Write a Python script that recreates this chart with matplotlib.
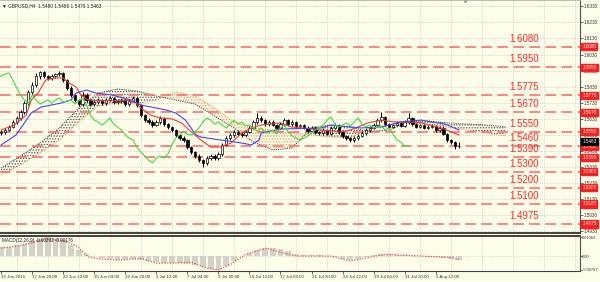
import matplotlib
matplotlib.use("Agg")
import matplotlib.pyplot as plt
import matplotlib.transforms as mtransforms
import numpy as np

plt.rcParams['font.family'] = ['Liberation Sans', 'DejaVu Sans']
plt.rcParams['hatch.linewidth'] = 0.6

# ---------------- data ----------------
# H4 candles, one drawn candle per 2 H4 bars (bar index = 2*k)
opens = [1.5540, 1.5548, 1.5560, 1.5579, 1.5610, 1.5635, 1.5672, 1.5728, 1.5797, 1.5840,
         1.5896, 1.5921, 1.5896, 1.5884, 1.5896, 1.5909, 1.5915, 1.5871, 1.5822, 1.5778,
         1.5747, 1.5722, 1.5778, 1.5747, 1.5722, 1.5734, 1.5747, 1.5728, 1.5747, 1.5759,
         1.5734, 1.5741, 1.5747, 1.5722, 1.5741, 1.5759, 1.5716, 1.5653, 1.5622, 1.5610,
         1.5591, 1.5610, 1.5635, 1.5597, 1.5579, 1.5560, 1.5529, 1.5510, 1.5498, 1.5454,
         1.5423, 1.5398, 1.5373, 1.5355, 1.5386, 1.5398, 1.5386, 1.5411, 1.5467, 1.5510,
         1.5529, 1.5548, 1.5535, 1.5529, 1.5548, 1.5573, 1.5610, 1.5635, 1.5622, 1.5597,
         1.5610, 1.5591, 1.5573, 1.5597, 1.5622, 1.5597, 1.5610, 1.5585, 1.5591, 1.5573,
         1.5554, 1.5573, 1.5548, 1.5541, 1.5560, 1.5535, 1.5573, 1.5591, 1.5548, 1.5523,
         1.5510, 1.5498, 1.5510, 1.5523, 1.5541, 1.5560, 1.5573, 1.5591, 1.5622, 1.5641,
         1.5597, 1.5579, 1.5591, 1.5604, 1.5585, 1.5610, 1.5635, 1.5597, 1.5579, 1.5591,
         1.5573, 1.5579, 1.5585, 1.5560, 1.5573, 1.5535, 1.5498, 1.5485, 1.5460]
closes = [1.5548, 1.5560, 1.5579, 1.5610, 1.5635, 1.5672, 1.5728, 1.5797, 1.5840, 1.5896,
          1.5921, 1.5896, 1.5884, 1.5896, 1.5909, 1.5915, 1.5871, 1.5822, 1.5778, 1.5747,
          1.5722, 1.5778, 1.5747, 1.5722, 1.5734, 1.5747, 1.5728, 1.5747, 1.5759, 1.5734,
          1.5741, 1.5747, 1.5722, 1.5741, 1.5759, 1.5716, 1.5653, 1.5622, 1.5610, 1.5591,
          1.5610, 1.5635, 1.5597, 1.5579, 1.5560, 1.5529, 1.5510, 1.5498, 1.5454, 1.5423,
          1.5398, 1.5373, 1.5355, 1.5386, 1.5398, 1.5386, 1.5411, 1.5467, 1.5510, 1.5529,
          1.5548, 1.5535, 1.5529, 1.5548, 1.5573, 1.5610, 1.5635, 1.5622, 1.5597, 1.5610,
          1.5591, 1.5573, 1.5597, 1.5622, 1.5597, 1.5610, 1.5585, 1.5591, 1.5573, 1.5554,
          1.5573, 1.5548, 1.5541, 1.5560, 1.5535, 1.5573, 1.5591, 1.5548, 1.5523, 1.5510,
          1.5498, 1.5510, 1.5523, 1.5541, 1.5560, 1.5573, 1.5591, 1.5622, 1.5641, 1.5597,
          1.5579, 1.5591, 1.5604, 1.5585, 1.5610, 1.5635, 1.5597, 1.5579, 1.5591, 1.5573,
          1.5579, 1.5585, 1.5560, 1.5573, 1.5535, 1.5498, 1.5485, 1.5460, 1.5463]
highs = [1.5560, 1.5572, 1.5590, 1.5622, 1.5648, 1.5685, 1.5742, 1.5812, 1.5862, 1.5912,
         1.5930, 1.5928, 1.5905, 1.5908, 1.5918, 1.5926, 1.5922, 1.5880, 1.5832, 1.5788,
         1.5756, 1.5795, 1.5788, 1.5755, 1.5745, 1.5758, 1.5756, 1.5758, 1.5770, 1.5768,
         1.5752, 1.5758, 1.5756, 1.5752, 1.5772, 1.5768, 1.5725, 1.5662, 1.5632, 1.5620,
         1.5622, 1.5648, 1.5644, 1.5606, 1.5588, 1.5568, 1.5538, 1.5520, 1.5506, 1.5462,
         1.5432, 1.5408, 1.5382, 1.5398, 1.5410, 1.5408, 1.5424, 1.5480, 1.5524, 1.5540,
         1.5560, 1.5558, 1.5545, 1.5558, 1.5585, 1.5625, 1.5668, 1.5645, 1.5630, 1.5620,
         1.5620, 1.5600, 1.5608, 1.5634, 1.5630, 1.5620, 1.5618, 1.5600, 1.5600, 1.5582,
         1.5584, 1.5582, 1.5556, 1.5570, 1.5568, 1.5585, 1.5602, 1.5600, 1.5556, 1.5532,
         1.5518, 1.5520, 1.5534, 1.5552, 1.5570, 1.5584, 1.5602, 1.5634, 1.5672, 1.5650,
         1.5606, 1.5600, 1.5614, 1.5612, 1.5620, 1.5665, 1.5644, 1.5606, 1.5600, 1.5600,
         1.5590, 1.5595, 1.5594, 1.5582, 1.5582, 1.5544, 1.5506, 1.5494, 1.5486]
lows = [1.5528, 1.5538, 1.5552, 1.5570, 1.5600, 1.5625, 1.5660, 1.5718, 1.5785, 1.5830,
        1.5880, 1.5882, 1.5870, 1.5872, 1.5885, 1.5895, 1.5860, 1.5810, 1.5765, 1.5735,
        1.5708, 1.5712, 1.5736, 1.5710, 1.5712, 1.5725, 1.5716, 1.5718, 1.5738, 1.5724,
        1.5725, 1.5730, 1.5712, 1.5712, 1.5732, 1.5705, 1.5642, 1.5610, 1.5598, 1.5580,
        1.5582, 1.5600, 1.5588, 1.5568, 1.5550, 1.5518, 1.5500, 1.5486, 1.5442, 1.5410,
        1.5385, 1.5360, 1.5329, 1.5345, 1.5375, 1.5375, 1.5376, 1.5400, 1.5458, 1.5500,
        1.5518, 1.5525, 1.5518, 1.5520, 1.5540, 1.5565, 1.5600, 1.5612, 1.5588, 1.5588,
        1.5582, 1.5564, 1.5565, 1.5588, 1.5588, 1.5588, 1.5576, 1.5576, 1.5564, 1.5545,
        1.5545, 1.5538, 1.5532, 1.5532, 1.5526, 1.5526, 1.5565, 1.5538, 1.5512, 1.5498,
        1.5485, 1.5488, 1.5500, 1.5514, 1.5532, 1.5550, 1.5564, 1.5582, 1.5612, 1.5588,
        1.5570, 1.5570, 1.5582, 1.5576, 1.5576, 1.5600, 1.5588, 1.5570, 1.5570, 1.5564,
        1.5564, 1.5570, 1.5550, 1.5550, 1.5526, 1.5488, 1.5472, 1.5440, 1.5450]

# Ichimoku lines (bar index, price)
tenkan_bar = [0, 6.7, 12.9, 15.5, 19, 23, 28, 32, 35, 38.7, 41, 45, 57, 64, 69, 72, 77, 82, 88, 93,
              98, 103, 108, 113, 118.5, 124, 129, 134, 144, 149.5, 155, 165, 175, 180, 189, 196,
              202.5, 211, 216.5, 227, 232, 236]
tenkan_val = [1.5560, 1.5591, 1.5653, 1.5747, 1.5790, 1.5871, 1.5884, 1.5884, 1.5853, 1.5828,
              1.5778, 1.5747, 1.5741, 1.5747, 1.5734, 1.5697, 1.5653, 1.5635, 1.5629, 1.5604,
              1.5548, 1.5498, 1.5454, 1.5454, 1.5479, 1.5541, 1.5573, 1.5591, 1.5604, 1.5579,
              1.5573, 1.5560, 1.5548, 1.5560, 1.5604, 1.5622, 1.5610, 1.5610, 1.5604, 1.5573,
              1.5548, 1.5529]
kijun_bar = [0, 7.7, 15.5, 20.6, 31, 36, 38.7, 44, 49, 57, 67, 72, 85, 90, 95, 100.5, 103, 113,
             124, 129, 133, 134, 144, 165, 170, 175, 185.5, 196, 206, 216.5, 221.6, 229, 236]
kijun_val = [1.5467, 1.5529, 1.5666, 1.5703, 1.5728, 1.5747, 1.5790, 1.5809, 1.5790, 1.5778,
             1.5747, 1.5716, 1.5685, 1.5666, 1.5622, 1.5529, 1.5516, 1.5498, 1.5479, 1.5467,
             1.5498, 1.5541, 1.5566, 1.5573, 1.5591, 1.5585, 1.5573, 1.5579, 1.5610, 1.5622,
             1.5610, 1.5597, 1.5560]
chikou_shift = 26
cloud_bar = [0, 10, 20, 30, 40, 50, 60, 70, 80, 90, 100, 110, 120, 130, 140, 150, 160, 170, 180,
             190, 200, 210, 220, 230, 240, 250, 260]
span_a = [1.5280, 1.5342, 1.5417, 1.5498, 1.5610, 1.5710, 1.5728, 1.5722, 1.5747, 1.5797,
          1.5772, 1.5697, 1.5610, 1.5573, 1.5560, 1.5541, 1.5529, 1.5516, 1.5510, 1.5573,
          1.5591, 1.5604, 1.5597, 1.5579, 1.5560, 1.5541, 1.5523]
span_b = [1.5323, 1.5398, 1.5479, 1.5573, 1.5697, 1.5790, 1.5815, 1.5803, 1.5772, 1.5747,
          1.5722, 1.5647, 1.5573, 1.5485, 1.5436, 1.5448, 1.5573, 1.5591, 1.5579, 1.5548,
          1.5560, 1.5610, 1.5616, 1.5604, 1.5597, 1.5591, 1.5579]

# horizontal levels
level_prices = [1.6080, 1.5950, 1.5775, 1.5670, 1.5550, 1.5460, 1.5390, 1.5300, 1.5200, 1.5100, 1.4975]
level_labels = ['1.6080', '1.5950', '1.5775', '1.5670', '1.5550', '1.5460', '1.5390', '1.5300',
                '1.5200', '1.5100', '1.4975']
current_price = 1.5463
price_ticks = [1.6330, 1.6230, 1.6130, 1.6030, 1.5930, 1.5830, 1.5730, 1.5630, 1.5530, 1.5430,
               1.5330, 1.5230, 1.5130, 1.5030, 1.4930]

# time axis
date_labels = ['15 Jun 2015', '17 Jun 20:00', '22 Jun 12:00', '25 Jun 04:00', '29 Jun 20:00',
               '2 Jul 12:00', '7 Jul 04:00', '9 Jul 20:00', '14 Jul 12:00', '17 Jul 04:00',
               '21 Jul 20:00', '24 Jul 12:00', '29 Jul 04:00', '31 Jul 20:00', '5 Aug 12:00']

# MACD (units of 1e-4), histogram every 4 bars
macd_hist_e4 = [50, 54, 60, 70, 84, 97, 106, 103, 92, 60, 35, 10, -2, -11, -17, -20, -19, -18, -22, -28,
                -34, -39, -42, -42, -44, -50, -63, -75, -79, -58, -27, 2, 20, 36, 43, 44, 38, 26, 14, 8,
                5, 4, 2, -5, -15, -21, -16, -4, 7, 14, 13, 8, 5, 1, -2, -3, -6, -9, -16, -22]
signal_bar = [0, 10.3, 23, 31, 38.7, 45, 51.5, 60, 72, 80, 90, 98, 105.7, 112, 118.5, 126, 136.6,
              144, 152, 170, 180, 193, 198.5, 216.5, 232, 236]
signal_e4 = [45, 60, 95, 90, 60, -5, -17, -23, -14, -40, -40, -35, -68, -79, -45, 10, 45, 22, 0,
             0, -28, 0, 10, 0, -8, -20]
macd_ticks = [0.01063, 0.0, -0.00787]
macd_tick_labels = ['0.01063', '0.00', '-0.00787']

# ---------------- figure ----------------
BG = '#FEFDEA'
GRID = '#C9C9BE'
fig = plt.figure(figsize=(6.0, 2.82), dpi=100)
fig.patch.set_facecolor(BG)
ax = fig.add_axes([0, 49 / 282, 580 / 600, 233 / 282])
axm = fig.add_axes([0, 11 / 282, 580 / 600, 35 / 282])
for a_ in (ax, axm):
    a_.set_facecolor(BG)
    a_.set_xlim(-0.6, 298.4)

ax.set_ylim(1.49187, 1.63696)
axm.set_ylim(-0.0085, 0.0114)

# grids
for g in np.arange(8, 298, 16):
    ax.axvline(g, color=GRID, lw=0.6, ls=(0, (1, 1.5)), zorder=0)
    axm.axvline(g, color=GRID, lw=0.6, ls=(0, (1, 1.5)), zorder=0)
for p in price_ticks:
    ax.axhline(p, color=GRID, lw=0.6, ls=(0, (1, 1.5)), zorder=0)
axm.axhline(0, color=GRID, lw=0.6, ls=(0, (1, 1.5)), zorder=0)

# cloud
sa = np.array(span_a)
sb = np.array(span_b)
cbx = np.array(cloud_bar, dtype=float)
ax.fill_between(cbx, sa, sb, where=sa >= sb, interpolate=True, facecolor='none',
                edgecolor='#E9A060', hatch='......', lw=0, zorder=1)
ax.fill_between(cbx, sa, sb, where=sa < sb, interpolate=True, facecolor='none',
                edgecolor='#505050', hatch='......', lw=0, zorder=1)
ax.plot(cbx, sa, color='#E9A060', lw=0.8, ls=(0, (1, 1)), zorder=1)
ax.plot(cbx, sb, color='#505050', lw=0.8, ls=(0, (1, 1)), zorder=1)

# levels
for p, lbl in zip(level_prices, level_labels):
    ax.axhline(p, color='#FF6464', lw=1.1, dashes=(7, 3.5), zorder=2)
    ax.annotate(lbl, xy=(262, p), xytext=(0, 3), textcoords='offset pixels',
                color='#FF2A2A', fontsize=7, ha='left', va='bottom', zorder=6)

# candles
o = np.array(opens); c = np.array(closes); h = np.array(highs); l = np.array(lows)
cb = np.arange(len(closes)) * 2
ax.vlines(cb, l, h, colors='black', lw=0.7, zorder=3)
bull = c >= o
bot = np.minimum(o, c)
hgt = np.maximum(np.abs(c - o), 0.00015)
ax.bar(cb[bull], hgt[bull], bottom=bot[bull], width=1.2, color='white', edgecolor='black', lw=0.5, zorder=3)
ax.bar(cb[~bull], hgt[~bull], bottom=bot[~bull], width=1.2, color='black', edgecolor='black', lw=0.5, zorder=3)

# ichimoku lines
ax.plot(tenkan_bar, tenkan_val, color='#F03A3A', lw=0.8, zorder=4)
ax.plot(kijun_bar, kijun_val, color='#4646F0', lw=0.8, zorder=4)
ax.plot(cb - chikou_shift, c, color='#3EDC3E', lw=0.8, zorder=4)

# right axis ticks
ax.yaxis.tick_right()
ax.set_yticks(price_ticks)
ax.set_yticklabels(['%.4f' % p for p in price_ticks])
ax.tick_params(axis='y', length=2, width=0.5, labelsize=3.3, pad=1, colors='#303030')
ax.set_xticks([])
trans = mtransforms.blended_transform_factory(ax.transAxes, ax.transData)
for p, lbl in zip(level_prices, level_labels):
    ax.text(1.004, p, lbl, transform=trans, fontsize=3.3, color='white', ha='left', va='center',
            bbox=dict(boxstyle='square,pad=0.25', fc='#FF1E1E', ec='#FF1E1E'), zorder=10, clip_on=False)
ax.annotate('%.4f' % current_price, xy=(1.004, current_price), xycoords=trans, xytext=(0, 4),
            textcoords='offset pixels', fontsize=3.3, color='white', ha='left', va='center',
            bbox=dict(boxstyle='square,pad=0.25', fc='black', ec='black'), zorder=11, annotation_clip=False)

# titles
ax.text(0.004, 0.985, '\u25BC GBPUSD,H4  1.5480 1.5486 1.5479 1.5463', transform=ax.transAxes,
        fontsize=3.4, va='top', ha='left', color='#202020')
ax.plot([239], [1.0], marker='v', ms=3, color='#909090', transform=mtransforms.blended_transform_factory(ax.transData, ax.transAxes), clip_on=False)

# spines
for a_ in (ax, axm):
    a_.spines['left'].set_visible(False)
    a_.spines['right'].set_color('#505050')
    a_.spines['right'].set_linewidth(0.8)
ax.spines['top'].set_color('#B0B0B0'); ax.spines['top'].set_linewidth(0.6)
ax.spines['bottom'].set_color('#404040'); ax.spines['bottom'].set_linewidth(1.4)
axm.spines['top'].set_color('#404040'); axm.spines['top'].set_linewidth(1.4)
axm.spines['bottom'].set_color('#404040'); axm.spines['bottom'].set_linewidth(0.8)

# MACD
hist_bar = np.arange(len(macd_hist_e4)) * 4
axm.bar(hist_bar, np.array(macd_hist_e4) * 1e-4, width=3.0, color='#D2D2C8', lw=0, zorder=1)
axm.plot(signal_bar, np.array(signal_e4) * 1e-4, color='#F04A4A', lw=0.9, ls=(0, (1, 1.2)), zorder=2)
axm.yaxis.tick_right()
axm.set_yticks(macd_ticks)
axm.set_yticklabels(macd_tick_labels)
axm.tick_params(axis='y', length=1.2, width=0.5, labelsize=2.9, pad=0.5, colors='#303030')
axm.set_xticks(np.arange(len(date_labels)) * 16)
axm.set_xticklabels(date_labels, ha='left')
axm.tick_params(axis='x', length=2, width=0.5, labelsize=3.2, pad=1, colors='#303030')
axm.text(0.004, 0.93, 'MACD(12,26,9) -0.00292 -0.00176', transform=axm.transAxes, fontsize=3.3,
         va='top', ha='left', color='#202020')

fig.savefig('out.png', dpi=100, facecolor=BG)
